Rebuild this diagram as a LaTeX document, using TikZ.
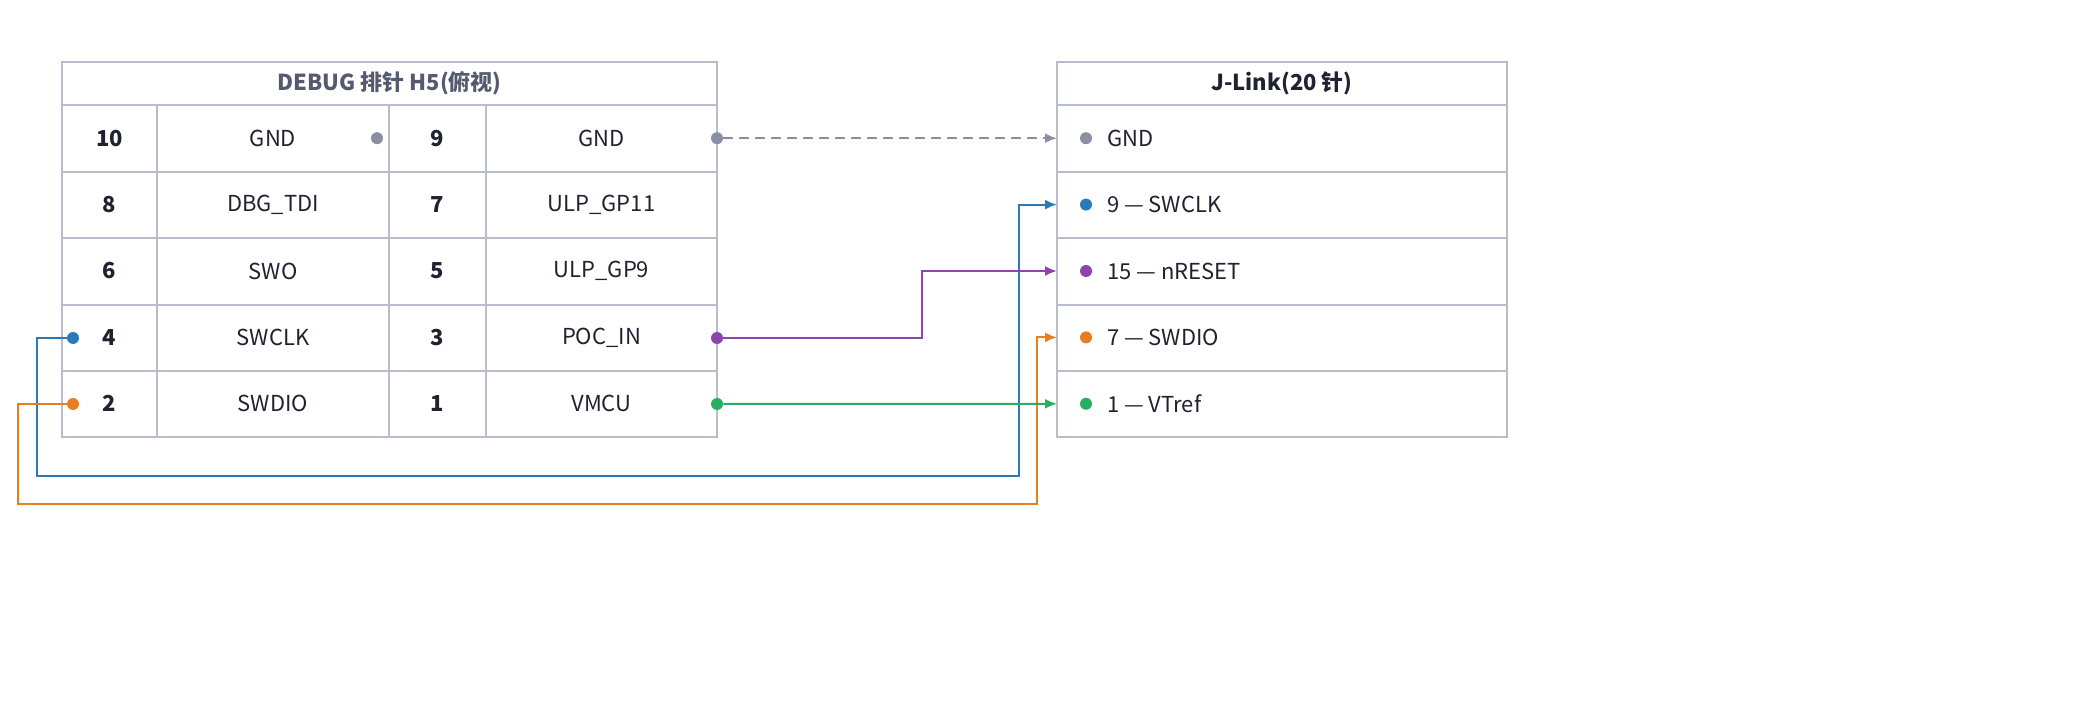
\documentclass[tikz,border=0pt]{standalone}
\usepackage{fontspec}
\setmainfont{Noto Sans CJK SC}
\usetikzlibrary{arrows.meta}
\definecolor{gridc}{HTML}{B8BCCB}
\definecolor{headc}{HTML}{555A6E}
\definecolor{txtc}{HTML}{1F2330}
\definecolor{dotg}{HTML}{8A8FA3}
\definecolor{wblue}{HTML}{2A7AB8}
\definecolor{worange}{HTML}{E67E22}
\definecolor{wpurple}{HTML}{8E44AD}
\definecolor{wgreen}{HTML}{27AE60}
\tikzset{
  cell/.style={draw=gridc, line width=1pt},
  lbl/.style={text=txtc, font=\fontsize{11}{13}\selectfont},
  num/.style={text=txtc, font=\fontsize{11}{13}\selectfont\bfseries},
  dot/.style={circle, fill=#1, inner sep=0pt, minimum size=6pt},
  wire/.style={draw=#1, line width=1pt, -{Latex[length=6pt,width=5pt]}}
}
\begin{document}
\begin{tikzpicture}[x=0.5pt,y=-0.5pt]
    \useasboundingbox (0,0) rectangle (2080,704);
    % Left table
    \draw[cell] (62,62) rectangle (717,437);
    \draw[cell] (62,105) -- (717,105);
    \foreach \y in {172,238,305,371} {
        \draw[cell] (62,\y) -- (717,\y);
    }
    \foreach \x in {157,389,486} {
        \draw[cell] (\x,105) -- (\x,437);
    }
    \node[text=headc, font=\fontsize{11}{13}\selectfont\bfseries] (lhead) at (389.5,83.5) {DEBUG 排针 H5(俯视)};
    \foreach \a/\an/\b/\bn [count=\i] in {10/GND/9/GND, 8/DBG\_TDI/7/ULP\_GP11, 6/SWO/5/ULP\_GP9, 4/SWCLK/3/POC\_IN, 2/SWDIO/1/VMCU} {
        \pgfmathsetmacro{\yc}{105+66.4*(\i-0.5)}
        \node[num] (na\i) at (109.5,\yc) {\a};
        \node[lbl] (la\i) at (273,\yc) {\an};
        \node[num] (nb\i) at (437.5,\yc) {\b};
        \node[lbl] (lb\i) at (601.5,\yc) {\bn};
    }
    % Right table
    \draw[cell] (1057,62) rectangle (1507,437);
    \draw[cell] (1057,105) -- (1507,105);
    \foreach \y in {172,238,305,371} {
        \draw[cell] (1057,\y) -- (1507,\y);
    }
    \node[text=txtc, font=\fontsize{11}{13}\selectfont\bfseries] (rhead) at (1282,83.5) {J-Link(20 针)};
    \foreach \t/\c [count=\i] in {GND/dotg, 9 — SWCLK/wblue, 15 — nRESET/wpurple, 7 — SWDIO/worange, 1 — VTref/wgreen} {
        \pgfmathsetmacro{\yc}{105+66.4*(\i-0.5)}
        \node[dot=\c] (rd\i) at (1086,\yc) {};
        \node[lbl, anchor=west] (rl\i) at (1100,\yc) {\t};
        \coordinate (ri\i) at (1057,\yc);
    }
    % Dots
    \node[dot=dotg] (gnda) at (377,138.2) {};
    \node[dot=dotg] (gndb) at (717,138.2) {};
    \node[dot=wblue] (swclk) at (73,338) {};
    \node[dot=worange] (swdio) at (73,404) {};
    \node[dot=wpurple] (pocin) at (717,338) {};
    \node[dot=wgreen] (vmcu) at (717,404) {};
    % Wires
    \draw[wire=dotg, dash pattern=on 5pt off 3pt] (gndb) -- (ri1);
    \draw[wire=wblue] (swclk) -- (37,338) -- (37,476) -- (1019,476) |- (ri2);
    \draw[wire=wpurple] (pocin) -- (922,338) |- (ri3);
    \draw[wire=worange] (swdio) -- (18,404) -- (18,504) -- (1037,504) |- (ri4);
    \draw[wire=wgreen] (vmcu) -- (ri5);
\end{tikzpicture}
\end{document}
